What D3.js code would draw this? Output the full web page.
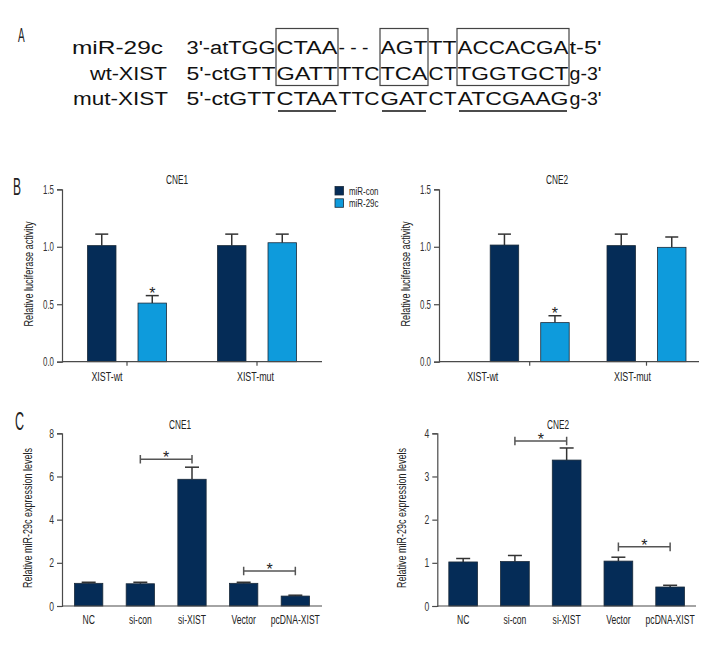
<!DOCTYPE html>
<html><head><meta charset="utf-8">
<script src="https://cdn.jsdelivr.net/npm/d3@7"></script>
<style>body{margin:0;background:#fff}svg{display:block}</style>
</head><body>
<svg id="c" width="720" height="648"></svg>
<script>
// ---------------- DATA ----------------
// Panel A: sequence alignment
const seqLabels = ["miR-29c", "wt-XIST", "mut-XIST"];
const seqMiR29c = ["3'-atTGG", "CTAA", "- - -", "AGT", "TT", "ACCACGA", "t-5'"];
const seqWtXIST = ["5'-ctGTT", "GATT", "TTC", "TCA", "CT", "TGGTGCT", "g-3'"];
const seqMutXIST = ["5'-ctGTT", "CTAA", "TTC", "GAT", "CT", "ATCGAAG", "g-3'"];
const boxedSegments = [1, 3, 5];       // boxed in rows 1-2
const underlinedSegments = [1, 3, 5];  // underlined in mutant row

// Panel B: luciferase activity
const lucGroups = ["XIST-wt", "XIST-mut"];
const lucSeries = ["miR-con", "miR-29c"];
const lucTicks = [0, 0.5, 1.0, 1.5];
const cne1MiRcon = [1.01, 1.01];
const cne1MiRconErr = [0.10, 0.10];
const cne1MiR29c = [0.51, 1.035];
const cne1MiR29cErr = [0.065, 0.075];
const cne2MiRcon = [1.015, 1.01];
const cne2MiRconErr = [0.095, 0.10];
const cne2MiR29c = [0.34, 0.995];
const cne2MiR29cErr = [0.06, 0.09];
const lucSigGroup = 0; // '*' over miR-29c in XIST-wt

// Panel C: miR-29c expression
const exprCats = ["NC", "si-con", "si-XIST", "Vector", "pcDNA-XIST"];
const cne1Expr = [1.05, 1.03, 5.87, 1.05, 0.46];
const cne1ExprErr = [0.05, 0.07, 0.56, 0.05, 0.04];
const cne2Expr = [1.02, 1.03, 3.38, 1.04, 0.44];
const cne2ExprErr = [0.08, 0.14, 0.28, 0.09, 0.04];
const cne1Ticks = [0, 2, 4, 6, 8];
const cne2Ticks = [0, 1, 2, 3, 4];
const sigPairs = [["si-con", "si-XIST"], ["Vector", "pcDNA-XIST"]];
const cne1SigLevels = [6.8, 1.62];
const cne2SigLevels = [3.82, 1.37];

// ---------------- STYLE ----------------
const DARK = "#052c57", LIGHT = "#0e9bdc";
const AXIS = "#4a4a4a", ERR = "#333";
const FF = "'Liberation Sans', Arial, sans-serif";
const SX = 0.66; // horizontal condensation of chart text

const svg = d3.select("#c");

function txt(g, x, y, s, size, opt = {}) {
  const k = opt.k ?? SX;
  const t = g.append("text")
    .attr("transform", `translate(${x},${y})${opt.rot ? ` rotate(${opt.rot})` : ""} scale(${k},1)`)
    .attr("text-anchor", opt.anchor || "middle")
    .attr("font-family", FF).attr("font-size", size)
    .attr("fill", opt.fill || "#222").text(s);
  if (opt.len) t.attr("textLength", opt.len / k).attr("lengthAdjust", "spacingAndGlyphs");
  return t;
}

function styleAxis(g, size) {
  g.selectAll("path,line").attr("stroke", AXIS).attr("stroke-width", 1.2);
  g.selectAll("text").each(function () {
    const t = d3.select(this);
    const x = +t.attr("x") || 0;
    t.attr("transform", `translate(${x},0) scale(${SX},1)`).attr("x", 0)
      .attr("font-family", FF).attr("font-size", size).attr("fill", "#333");
  });
}

// ---------------- PANEL A ----------------
const A = svg.append("g");
txt(A, 18, 42, "A", 20, { anchor: "start", k: 0.5 });
const rowsY = [54, 79.5, 105];
const labelSpans = [[72, 163], [90, 167], [73, 168]];
const cols = [186, 276, 338, 380, 428, 457, 569, 602];
const rows = [seqMiR29c, seqWtXIST, seqMutXIST];
seqLabels.forEach((l, i) => {
  A.append("text").attr("x", labelSpans[i][0]).attr("y", rowsY[i])
    .attr("font-family", FF).attr("font-size", 18).attr("fill", "#111")
    .attr("textLength", labelSpans[i][1] - labelSpans[i][0]).attr("lengthAdjust", "spacingAndGlyphs")
    .text(l);
});
rows.forEach((segs, r) => {
  segs.forEach((s, j) => {
    let x0 = cols[j] + 0.5, w = cols[j + 1] - cols[j] - 1;
    if (s.startsWith("-")) w = 30;
    A.append("text").attr("x", x0).attr("y", rowsY[r])
      .attr("font-family", FF).attr("font-size", 18).attr("fill", "#111")
      .attr("textLength", w).attr("lengthAdjust", "spacingAndGlyphs").text(s);
  });
});
boxedSegments.forEach(j => {
  A.append("rect").attr("x", cols[j]).attr("y", 28.5)
    .attr("width", cols[j + 1] - cols[j]).attr("height", 57)
    .attr("fill", "none").attr("stroke", "#444").attr("stroke-width", 1.2);
});
underlinedSegments.forEach(j => {
  A.append("line").attr("x1", cols[j] + 2).attr("x2", cols[j + 1] - 2)
    .attr("y1", 111).attr("y2", 111).attr("stroke", "#111").attr("stroke-width", 1.6);
});

// ---------------- PANEL B ----------------
const B = svg.append("g");
txt(B, 13, 195, "B", 24, { anchor: "start", k: 0.5 });

function errBar(g, cx, yv, ye, cap) {
  g.append("line").attr("x1", cx).attr("x2", cx).attr("y1", yv).attr("y2", ye)
    .attr("stroke", ERR).attr("stroke-width", 1.5);
  g.append("line").attr("x1", cx - cap / 2).attr("x2", cx + cap / 2).attr("y1", ye).attr("y2", ye)
    .attr("stroke", ERR).attr("stroke-width", 1.5);
}

function lucPanel(cfg) {
  const g = B.append("g");
  const y = d3.scaleLinear().domain([0, 1.5]).range([361.7, 189.3]);
  const xg = d3.scaleBand().domain(lucGroups).range(cfg.band);
  const xs = d3.scaleBand().domain(lucSeries).range([-39.5, 39.5]).paddingInner(0.436);
  const series = [[cfg.con, cfg.conErr, DARK], [cfg.c29, cfg.c29Err, LIGHT]];
  lucGroups.forEach((grp, i) => {
    const gc = xg(grp) + xg.bandwidth() / 2;
    series.forEach(([vals, errs, col], s) => {
      const bx = gc + xs(lucSeries[s]);
      const cx = bx + xs.bandwidth() / 2;
      errBar(g, cx, y(vals[i]), y(vals[i] + errs[i]), 13);
      g.append("rect").attr("x", bx).attr("y", y(vals[i]))
        .attr("width", xs.bandwidth()).attr("height", y(0) - y(vals[i]))
        .attr("fill", col).attr("stroke", "#1a2a3a").attr("stroke-width", 0.8);
      if (s === 1 && i === lucSigGroup)
        g.append("text").attr("x", cx).attr("y", y(vals[i] + errs[i]) + 3)
          .attr("text-anchor", "middle").attr("font-family", FF).attr("font-size", 16)
          .attr("fill", "#222").text("*");
    });
    txt(g, gc + cfg.labelShift[i], 381, grp, 13.5);
  });
  // axes
  const ya = g.append("g").attr("transform", `translate(${cfg.axisX[0]},0)`)
    .call(d3.axisLeft(y).tickValues(lucTicks).tickFormat(d3.format(".1f")).tickSize(5).tickPadding(3));
  styleAxis(ya, 12);
  const xa = g.append("g").attr("transform", `translate(0,${y(0)})`)
    .call(d3.axisBottom(xg).tickSize(4).tickFormat(""));
  xa.select(".domain").remove();
  styleAxis(xa, 12);
  g.append("line").attr("x1", cfg.axisX[0]).attr("x2", cfg.axisX[1]).attr("y1", y(0)).attr("y2", y(0))
    .attr("stroke", AXIS).attr("stroke-width", 1.2);
  txt(g, cfg.title[0], 184, cfg.title[2], 12.5);
  txt(g, cfg.yLab[0], cfg.yLab[1], "Relative luciferase activity", 12.5, { rot: -90, len: 105, k: 1 });
}

lucPanel({ band: [62, 322], axisX: [62, 322], labelShift: [-20, -1.5], title: [177, 184, "CNE1"],
  yLab: [33, 274], con: cne1MiRcon, conErr: cne1MiRconErr, c29: cne1MiR29c, c29Err: cne1MiR29cErr });
lucPanel({ band: [471.3, 704.9], axisX: [439, 699], labelShift: [-47, -14], title: [557, 184, "CNE2"],
  yLab: [410, 274], con: cne2MiRcon, conErr: cne2MiRconErr, c29: cne2MiR29c, c29Err: cne2MiR29cErr });

// legend
const leg = B.append("g");
lucSeries.forEach((s, i) => {
  leg.append("rect").attr("x", 335).attr("y", 186.5 + i * 12.3).attr("width", 8.5).attr("height", 8.5)
    .attr("fill", i ? LIGHT : DARK).attr("stroke", "#1a2a3a").attr("stroke-width", 0.8);
  txt(leg, 349, 194.5 + i * 12.3, s, 11, { anchor: "start", k: 0.72 });
});

// ---------------- PANEL C ----------------
const C = svg.append("g");
txt(C, 15, 430, "C", 25, { anchor: "start", k: 0.5 });

function exprPanel(cfg) {
  const g = C.append("g");
  const y = d3.scaleLinear().domain([0, cfg.ticks[cfg.ticks.length - 1]]).range([606, 433.3]);
  const x = d3.scaleBand().domain(exprCats).range(cfg.range).paddingInner(cfg.pi).paddingOuter(cfg.po);
  exprCats.forEach((c, i) => {
    const cx = x(c) + x.bandwidth() / 2;
    errBar(g, cx, y(cfg.vals[i]), y(cfg.vals[i] + cfg.errs[i]), 14);
    g.append("rect").attr("x", x(c)).attr("y", y(cfg.vals[i]))
      .attr("width", x.bandwidth()).attr("height", y(0) - y(cfg.vals[i]))
      .attr("fill", DARK).attr("stroke", "#1a2a3a").attr("stroke-width", 0.8);
    txt(g, cx, 624, c, 13);
  });
  sigPairs.forEach(([a, b], i) => {
    const x1 = x(a) + x.bandwidth() / 2, x2 = x(b) + x.bandwidth() / 2, yy = y(cfg.sig[i]);
    g.append("path").attr("d", `M${x1},${yy - 4.3}V${yy + 4.3}M${x1},${yy}H${x2}M${x2},${yy - 4.3}V${yy + 4.3}`)
      .attr("fill", "none").attr("stroke", "#555").attr("stroke-width", 1.5);
    g.append("text").attr("x", (x1 + x2) / 2).attr("y", yy + 4).attr("text-anchor", "middle")
      .attr("font-family", FF).attr("font-size", 16).attr("fill", "#222").text("*");
  });
  const ya = g.append("g").attr("transform", `translate(${cfg.range[0]},0)`)
    .call(d3.axisLeft(y).tickValues(cfg.ticks).tickFormat(d3.format("d")).tickSize(5).tickPadding(3));
  styleAxis(ya, 13);
  g.append("line").attr("x1", cfg.range[0]).attr("x2", cfg.range[1]).attr("y1", y(0)).attr("y2", y(0))
    .attr("stroke", AXIS).attr("stroke-width", 1.2);
  txt(g, cfg.title[0], 429, cfg.title[1], 12.5);
  txt(g, cfg.yLab[0], cfg.yLab[1], "Relative miR-29c expression levels", 12.5, { rot: -90, len: 140, k: 1 });
}

exprPanel({ range: [62, 322], pi: 0.452, po: 0.242, ticks: cne1Ticks, vals: cne1Expr, errs: cne1ExprErr,
  sig: cne1SigLevels, title: [180, "CNE1"], yLab: [32, 518] });
exprPanel({ range: [437.3, 696], pi: 0.445, po: 0.2225, ticks: cne2Ticks, vals: cne2Expr, errs: cne2ExprErr,
  sig: cne2SigLevels, title: [558, "CNE2"], yLab: [406, 518] });
</script>
</body></html>
